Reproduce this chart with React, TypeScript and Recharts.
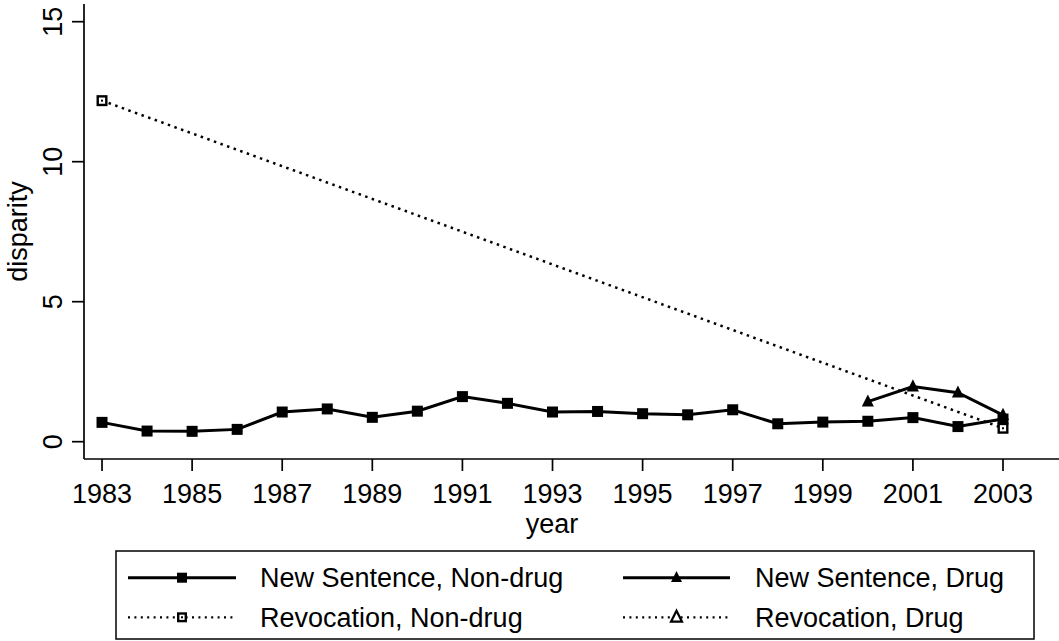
import React from 'react';
import { LineChart, Line, XAxis, YAxis } from 'recharts';

// values
const years = [1983, 1984, 1985, 1986, 1987, 1988, 1989, 1990, 1991, 1992, 1993, 1994, 1995, 1996, 1997, 1998, 1999, 2000, 2001, 2002, 2003];
const newNonDrug = [0.69, 0.38, 0.37, 0.44, 1.06, 1.17, 0.87, 1.09, 1.61, 1.37, 1.06, 1.08, 1.0, 0.96, 1.14, 0.64, 0.7, 0.73, 0.86, 0.54, 0.81];
const newDrug = [null, null, null, null, null, null, null, null, null, null, null, null, null, null, null, null, null, 1.43, 1.97, 1.75, 0.95];
const revNonDrug = [12.18, null, null, null, null, null, null, null, null, null, null, null, null, null, null, null, null, null, null, null, 0.48];
const revDrug: (number | null)[] = [];

const xTicks = [1983, 1985, 1987, 1989, 1991, 1993, 1995, 1997, 1999, 2001, 2003];
const yTicks = [0, 5, 10, 15];
const legendItems = [
    { label: 'New Sentence, Non-drug', marker: 'square', dotted: false },
    { label: 'New Sentence, Drug', marker: 'triangle', dotted: false },
    { label: 'Revocation, Non-drug', marker: 'hsquare', dotted: true },
    { label: 'Revocation, Drug', marker: 'htriangle', dotted: true },
];

const data = years.map((year, i) => ({
    year,
    newNonDrug: newNonDrug[i],
    newDrug: newDrug[i],
    revNonDrug: revNonDrug[i],
    revDrug: revDrug[i] ?? null,
}));

const FONT = 'Arial, "Liberation Sans", sans-serif';
const DOTS = '2.5 4.5';

const Marker = ({ kind, cx, cy, s = 11 }: { kind: string; cx: number; cy: number; s?: number }) => {
    const h = s / 2;
    if (kind === 'square') return <rect x={cx - h} y={cy - h} width={s} height={s} fill="#000" />;
    if (kind === 'hsquare')
        return (
            <g>
                <rect x={cx - h + 1.2} y={cy - h + 1.2} width={s - 2.4} height={s - 2.4} fill="#fff" stroke="#000" strokeWidth={2.4} />
                <rect x={cx - 1} y={cy - 1} width={2} height={2} fill="#000" />
            </g>
        );
    const t = s * 1.1;
    const pts = `${cx},${cy - t * 0.6} ${cx - t / 2},${cy + t * 0.4} ${cx + t / 2},${cy + t * 0.4}`;
    if (kind === 'triangle') return <polygon points={pts} fill="#000" />;
    return <polygon points={pts} fill="#fff" stroke="#000" strokeWidth={2.2} />;
};

const dotFor = (kind: string) => (props: any) => {
    const { cx, cy, index } = props;
    if (cx == null || cy == null || props.value == null) return <g key={`${kind}-${index}`} />;
    return <g key={`${kind}-${index}`}><Marker kind={kind} cx={cx} cy={cy} /></g>;
};

const XTick = ({ x, payload }: any) => (
    <text x={x} y={503} textAnchor="middle" fontSize={27} fontFamily={FONT} fill="#000">{payload.value}</text>
);

const YTick = ({ y, payload }: any) => (
    <text x={62} y={y} transform={`rotate(-90, 62, ${y})`} textAnchor="middle" fontSize={27} fontFamily={FONT} fill="#000">
        {payload.value}
    </text>
);

const LegendBox = () => {
    const rows = [577.7, 617.3];
    const cols = [{ x1: 128, x2: 236, tx: 260 }, { x1: 623, x2: 730, tx: 755 }];
    return (
        <svg width={1059} height={641} style={{ position: 'absolute', left: 0, top: 0, pointerEvents: 'none' }}>
            <rect x={116} y={551} width={918} height={88} fill="none" stroke="#000" strokeWidth={1.5} />
            {legendItems.map((item, i) => {
                const c = cols[i % 2];
                const y = rows[Math.floor(i / 2)];
                const mid = (c.x1 + c.x2) / 2;
                return (
                    <g key={item.label}>
                        <line x1={c.x1} x2={c.x2} y1={y} y2={y} stroke="#000" strokeWidth={item.dotted ? 2.2 : 3} strokeDasharray={item.dotted ? '2 4.4' : undefined} />
                        <Marker kind={item.marker} cx={mid} cy={y} s={10} />
                        <text x={c.tx} y={y + 9.7} fontSize={27} fontFamily={FONT} fill="#000">{item.label}</text>
                    </g>
                );
            })}
        </svg>
    );
};

export default function App() {
    return (
        <div style={{ position: 'absolute', left: 0, top: 0, width: 1059, height: 641, background: '#fff', fontFamily: FONT }}>
            <LineChart width={1059} height={641} data={data} margin={{ top: 4, right: 0, bottom: 122, left: 0 }}>
                <XAxis
                    dataKey="year"
                    type="number"
                    domain={[1982.6, 2004.243]}
                    ticks={xTicks}
                    tick={<XTick />}
                    tickSize={12}
                    height={60}
                    stroke="#000"
                    strokeWidth={1.7}
                    interval={0}
                />
                <XAxis xAxisId="top" dataKey="year" type="number" domain={[1982.6, 2004.243]} orientation="top" tick={false} tickLine={false} height={0} stroke="#000" strokeWidth={1.7} />
                <YAxis
                    type="number"
                    domain={[-0.618, 15.632]}
                    ticks={yTicks}
                    tick={<YTick />}
                    tickSize={12}
                    width={84}
                    stroke="#000"
                    strokeWidth={1.7}
                    interval={0}
                />
                <Line dataKey="newNonDrug" stroke="#000" strokeWidth={3} dot={dotFor('square')} activeDot={false} isAnimationActive={false} />
                <Line dataKey="newDrug" stroke="#000" strokeWidth={3} dot={dotFor('triangle')} activeDot={false} isAnimationActive={false} />
                <Line dataKey="revNonDrug" stroke="#000" strokeWidth={2.5} strokeDasharray={DOTS} connectNulls dot={dotFor('hsquare')} activeDot={false} isAnimationActive={false} />
                <Line dataKey="revDrug" stroke="#000" strokeWidth={2.5} strokeDasharray={DOTS} connectNulls dot={dotFor('htriangle')} activeDot={false} isAnimationActive={false} />
            </LineChart>
            <svg width={1059} height={641} style={{ position: 'absolute', left: 0, top: 0, pointerEvents: 'none' }}>
                <text x={552} y={533} textAnchor="middle" fontSize={27} fontFamily={FONT} fill="#000">year</text>
                <text x={27} y={231.5} transform="rotate(-90, 27, 231.5)" textAnchor="middle" fontSize={27} fontFamily={FONT} fill="#000">disparity</text>
            </svg>
            <LegendBox />
        </div>
    );
}
